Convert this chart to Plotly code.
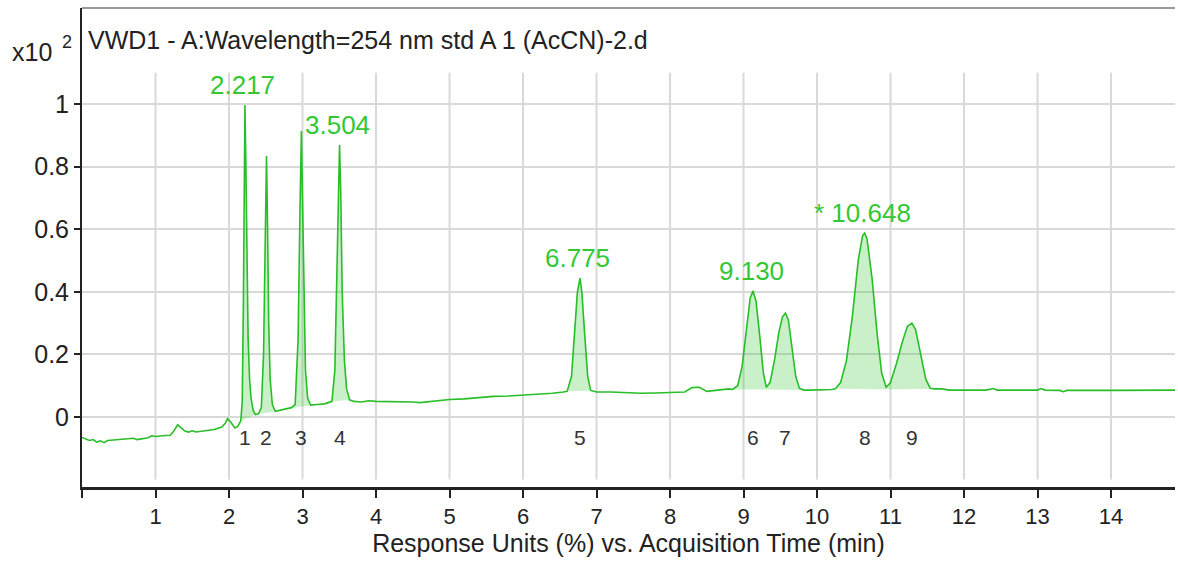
import plotly.graph_objects as go

# ---------------- data ----------------
time = [0.00, 0.05, 0.10, 0.15, 0.20, 0.25, 0.30, 0.35, 0.40, 0.50, 0.60, 0.70, 0.75, 0.80, 0.90, 0.95,
        1.00, 1.10, 1.20, 1.25, 1.30, 1.35, 1.40, 1.45, 1.50, 1.55, 1.60, 1.70, 1.80, 1.90, 1.95, 1.98,
        2.02, 2.08, 2.12, 2.16,
        2.18, 2.195, 2.205, 2.217, 2.23, 2.245, 2.26, 2.28, 2.30, 2.33, 2.36,
        2.40, 2.44, 2.47, 2.49, 2.51, 2.525, 2.54, 2.56, 2.59, 2.63,
        2.70, 2.78, 2.85, 2.90, 2.94, 2.965, 2.985, 3.00, 3.02, 3.04, 3.07, 3.11,
        3.20, 3.30, 3.35, 3.40, 3.44, 3.47, 3.49, 3.504, 3.52, 3.54, 3.57, 3.60, 3.64, 3.70,
        3.80, 3.90, 4.00, 4.10, 4.30, 4.50, 4.60, 4.80, 5.00, 5.20, 5.40, 5.60, 5.80, 6.00, 6.20, 6.40, 6.55,
        6.60, 6.66, 6.70, 6.74, 6.775, 6.80, 6.84, 6.88, 6.92, 7.00,
        7.20, 7.40, 7.60, 7.80, 8.00, 8.20, 8.30, 8.40, 8.50, 8.60, 8.70, 8.80,
        8.85, 8.92, 8.98, 9.04, 9.09, 9.13, 9.17, 9.22, 9.27, 9.31,
        9.36, 9.42, 9.48, 9.53, 9.57, 9.61, 9.66, 9.71, 9.76, 9.82,
        9.90, 10.00, 10.10, 10.20,
        10.25, 10.32, 10.40, 10.48, 10.56, 10.62, 10.648, 10.68, 10.75, 10.82, 10.88, 10.94,
        11.00, 11.08, 11.16, 11.23, 11.29, 11.34, 11.41, 11.48, 11.54, 11.60,
        11.70, 11.80, 12.00, 12.30, 12.40, 12.45, 13.00, 13.05, 13.10, 13.30, 13.35, 13.40,
        14.00, 14.50, 14.88]

signal = [-0.065, -0.070, -0.075, -0.072, -0.080, -0.076, -0.082, -0.075, -0.074, -0.073, -0.072, -0.068, -0.072, -0.070, -0.066, -0.060,
          -0.062, -0.060, -0.058, -0.045, -0.025, -0.035, -0.045, -0.048, -0.044, -0.048, -0.046, -0.044, -0.040, -0.032, -0.020, -0.005,
          -0.015, -0.035, -0.030, -0.012,
          0.05, 0.35, 0.75, 0.997, 0.80, 0.45, 0.25, 0.12, 0.06, 0.02, 0.008,
          0.010, 0.03, 0.20, 0.55, 0.834, 0.60, 0.30, 0.12, 0.04, 0.018,
          0.022, 0.026, 0.030, 0.040, 0.25, 0.65, 0.914, 0.70, 0.35, 0.15, 0.06, 0.038,
          0.040, 0.042, 0.046, 0.050, 0.15, 0.45, 0.75, 0.869, 0.72, 0.40, 0.18, 0.09, 0.055, 0.050,
          0.048, 0.052, 0.050, 0.050, 0.050, 0.048, 0.046, 0.052, 0.056, 0.058, 0.062, 0.066, 0.067, 0.070, 0.072, 0.076, 0.080,
          0.082, 0.13, 0.26, 0.40, 0.444, 0.40, 0.26, 0.13, 0.085, 0.080,
          0.080, 0.078, 0.076, 0.077, 0.078, 0.080, 0.094, 0.095, 0.082, 0.085, 0.088, 0.090,
          0.088, 0.10, 0.16, 0.28, 0.38, 0.403, 0.37, 0.26, 0.14, 0.095,
          0.11, 0.18, 0.27, 0.32, 0.332, 0.31, 0.22, 0.13, 0.092, 0.086,
          0.086, 0.086, 0.087, 0.088,
          0.090, 0.11, 0.18, 0.32, 0.50, 0.58, 0.588, 0.57, 0.44, 0.26, 0.14, 0.095,
          0.11, 0.17, 0.24, 0.29, 0.300, 0.28, 0.20, 0.12, 0.092, 0.090,
          0.090, 0.086, 0.086, 0.086, 0.091, 0.086, 0.086, 0.091, 0.086, 0.085, 0.081, 0.085,
          0.085, 0.085, 0.086]

peak_numbers = ["1", "2", "3", "4", "5", "6", "7", "8", "9"]
peak_rt = [2.217, 2.51, 2.985, 3.504, 6.775, 9.13, 9.57, 10.648, 11.29]
peak_height = [0.997, 0.834, 0.914, 0.869, 0.444, 0.403, 0.332, 0.588, 0.300]
# integration limits (start, end) and baseline levels at these limits
peak_start = [2.16, 2.40, 2.85, 3.40, 6.60, 8.85, 9.31, 10.25, 10.94]
peak_end = [2.36, 2.63, 3.11, 3.64, 6.92, 9.31, 9.82, 10.94, 11.70]
base_start = [-0.012, 0.010, 0.030, 0.050, 0.082, 0.088, 0.088, 0.090, 0.089]
base_end = [0.008, 0.018, 0.038, 0.055, 0.085, 0.088, 0.086, 0.089, 0.090]

label_text = ["2.217", "3.504", "6.775", "9.130", "* 10.648"]
label_peak = [0, 3, 4, 5, 7]

title_text = "VWD1 - A:Wavelength=254 nm std A 1 (AcCN)-2.d"
x_tickvals = list(range(0, 15))
x_ticktext = [""] + [str(v) for v in range(1, 15)]
y_tickvals = [0, 0.2, 0.4, 0.6, 0.8, 1.0]
y_ticktext = ["0", "0.2", "0.4", "0.6", "0.8", "1"]

# ---------------- figure ----------------
LINE = "rgb(40,190,40)"
FILL = "rgba(60,200,60,0.28)"
LABEL = "rgb(51,200,51)"
FONT = "Liberation Sans, Arial, sans-serif"
DARK = "#222222"

fig = go.Figure()

# filled peak areas
for i in range(len(peak_rt)):
    xs = [t for t in time if peak_start[i] <= t <= peak_end[i]]
    ys = [s for t, s in zip(time, signal) if peak_start[i] <= t <= peak_end[i]]
    xs = xs + [peak_end[i], peak_start[i]]
    ys = ys + [base_end[i], base_start[i]]
    fig.add_trace(go.Scatter(x=xs, y=ys, mode="lines", fill="toself", fillcolor=FILL,
                             line=dict(width=0), hoverinfo="skip", showlegend=False))

# chromatogram trace
fig.add_trace(go.Scatter(x=time, y=signal, mode="lines",
                         line=dict(color=LINE, width=1.6), showlegend=False))

# vertical grid lines (only in the grid region below the title band)
for v in x_tickvals[1:]:
    fig.add_shape(type="line", xref="x", yref="y", x0=v, x1=v, y0=-0.2, y1=1.1,
                  line=dict(color="#d9d9d9", width=2), layer="below")

# top border line
fig.add_shape(type="line", xref="paper", yref="paper", x0=0, x1=1, y0=1, y1=1,
              line=dict(color="#9a9a9a", width=2))

# retention-time labels
for txt, p in zip(label_text, label_peak):
    fig.add_annotation(x=peak_rt[p], y=peak_height[p], text=txt, showarrow=False,
                       xanchor="center", yanchor="bottom", yshift=3, xshift=-2,
                       font=dict(family=FONT, size=26, color=LABEL))

# peak numbers
for n, t in zip(peak_numbers, peak_rt):
    fig.add_annotation(x=t, y=-0.065, text=n, showarrow=False,
                       xanchor="center", yanchor="middle",
                       font=dict(family=FONT, size=21, color="#333333"))

# title inside the plot box
fig.add_annotation(xref="paper", yref="paper", x=0.004, y=0.933, text=title_text,
                   showarrow=False, xanchor="left", yanchor="middle",
                   font=dict(family=FONT, size=25, color=DARK))

# y-axis multiplier
fig.add_annotation(xref="paper", yref="paper", x=-0.066, y=0.908, text="x10",
                   showarrow=False, xanchor="left", yanchor="middle",
                   font=dict(family=FONT, size=25, color=DARK))
fig.add_annotation(xref="paper", yref="paper", x=-0.020, y=0.928, text="2",
                   showarrow=False, xanchor="left", yanchor="middle",
                   font=dict(family=FONT, size=18, color=DARK))

fig.update_layout(
    width=1178, height=565,
    margin=dict(l=82, r=3, t=8, b=78),
    paper_bgcolor="white", plot_bgcolor="white",
    font=dict(family=FONT, color=DARK),
    xaxis=dict(range=[0, 14.87], tickvals=x_tickvals, ticktext=x_ticktext, automargin=False,
               showgrid=False, zeroline=False, showline=True, linecolor=DARK, linewidth=3,
               ticks="outside", ticklen=8, tickwidth=2, tickcolor=DARK,
               tickfont=dict(size=22, color=DARK),
               title=dict(text="Response Units (%) vs. Acquisition Time (min)",
                          font=dict(size=25, color=DARK), standoff=6)),
    yaxis=dict(range=[-0.2236, 1.307], tickvals=y_tickvals, ticktext=y_ticktext, automargin=False,
               showgrid=True, gridcolor="#d9d9d9", gridwidth=2, zeroline=False,
               showline=True, linecolor=DARK, linewidth=2,
               ticks="outside", ticklen=6, tickwidth=2, tickcolor=DARK,
               tickfont=dict(size=25, color=DARK)),
)

fig.write_html("out.html", config={"displayModeBar": False},
               post_script="document.body.style.margin='0';document.body.style.overflow='hidden';")
